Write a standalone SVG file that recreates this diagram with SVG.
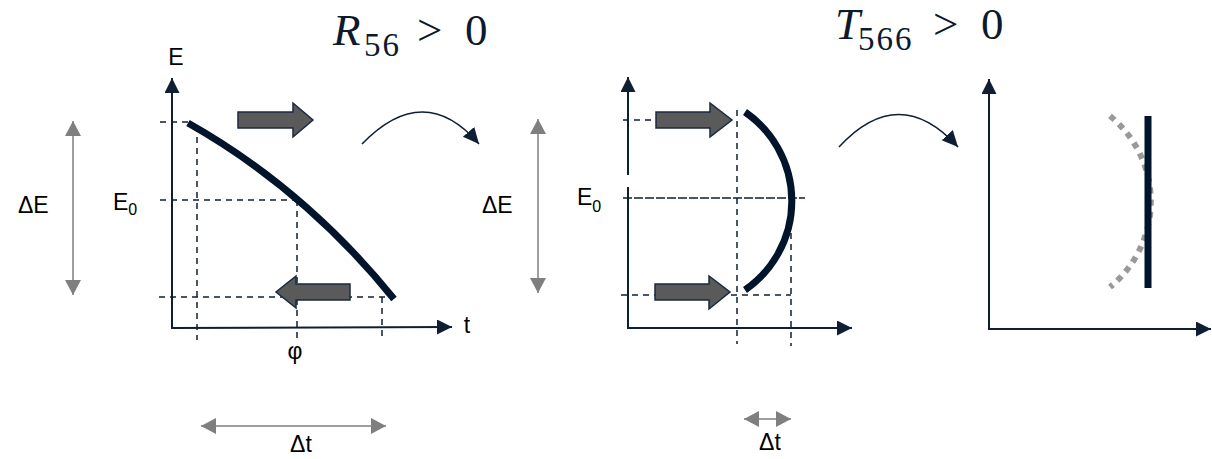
<svg xmlns="http://www.w3.org/2000/svg" width="1212" height="459" viewBox="0 0 1212 459">
<style>
.lbl{font-family:"Liberation Sans",Arial,sans-serif;font-size:23px;fill:#000}
.math{font-family:"Liberation Serif","DejaVu Serif",serif;fill:#0c1a2e;font-size:45px}
.sub{font-size:33px;letter-spacing:2px}
.axis{stroke:#0f1e33;stroke-width:2;fill:none}
.dash{stroke:#0f1e33;stroke-width:1.5;stroke-dasharray:6 5;fill:none}
.thick{stroke:#00152b;stroke-width:7;fill:none}
.gray{stroke:#7f7f7f;stroke-width:1.5;fill:none}
.block{fill:#5a5a5a;stroke:#1a2a3f;stroke-width:1.5}
.curv{stroke:#0f1e33;stroke-width:1.5;fill:none}
</style>
<defs>
<marker id="ah" markerUnits="userSpaceOnUse" markerWidth="16" markerHeight="16" refX="15" refY="7.5" orient="auto"><path d="M0,0 L15,7.5 L0,15 Z" fill="#0f1e33"/></marker>
<marker id="gh" markerUnits="userSpaceOnUse" markerWidth="16" markerHeight="18" refX="15" refY="8" orient="auto-start-reverse"><path d="M0,0 L15,8 L0,16 Z" fill="#7f7f7f"/></marker>
<marker id="ch" markerUnits="userSpaceOnUse" markerWidth="18" markerHeight="16" refX="16" refY="7.5" orient="auto"><path d="M0,0 L16,7.5 L0,15 Z" fill="#0f1e33"/></marker>
</defs>

<g id="title-r56">
<text class="math" x="333" y="45" font-style="italic">R</text>
<text class="math sub" x="364" y="56">56</text>
<text class="math" x="417" y="45">&gt;</text>
<text class="math" x="465" y="45">0</text>
</g>
<g id="title-t566">
<text class="math" x="835" y="39" font-style="italic">T</text>
<text class="math sub" x="858" y="50">566</text>
<text class="math" x="933" y="39">&gt;</text>
<text class="math" x="981" y="39">0</text>
</g>

<g id="panel1">
<line class="axis" x1="172" y1="329" x2="172" y2="78" marker-end="url(#ah)"/>
<line class="axis" x1="172" y1="328" x2="452" y2="327" marker-end="url(#ah)"/>
<line class="dash" x1="160" y1="122" x2="190" y2="122"/>
<line class="dash" x1="197" y1="126" x2="197" y2="340"/>
<line class="dash" x1="160" y1="200" x2="298" y2="200"/>
<line class="dash" x1="297" y1="200" x2="297" y2="338"/>
<line class="dash" x1="159" y1="297" x2="393" y2="297"/>
<line class="dash" x1="382" y1="297" x2="382" y2="340"/>
<path class="thick" d="M188,123 Q305,189 394,299"/>
<polygon class="block" points="238,112 293,112 293,103 313,120 293,137 293,128 238,128"/>
<polygon class="block" points="350,284 296,284 296,276 276,292 296,308 296,300 350,300"/>
<text class="lbl" x="176" y="65" text-anchor="middle">E</text>
<text class="lbl" x="467" y="333" text-anchor="middle">t</text>
<text class="lbl" x="295" y="359" text-anchor="middle" font-size="25">φ</text>
<text class="lbl" x="113" y="210">E<tspan font-size="16" dy="5">0</tspan></text>
<text class="lbl" x="18" y="213">ΔE</text>
<line class="gray" x1="73" y1="121" x2="73" y2="295" marker-start="url(#gh)" marker-end="url(#gh)"/>
<line class="gray" x1="201" y1="426" x2="386" y2="426" marker-start="url(#gh)" marker-end="url(#gh)"/>
<text class="lbl" x="301" y="452" text-anchor="middle">Δt</text>
</g>

<g id="panel2">
<line class="axis" x1="628" y1="175" x2="628" y2="77" marker-end="url(#ah)"/>
<line class="axis" x1="628" y1="187" x2="628" y2="328"/>
<line class="axis" x1="627" y1="328" x2="852" y2="328" marker-end="url(#ah)"/>
<line class="dash" x1="623" y1="120" x2="656" y2="120"/>
<line class="dash" x1="737" y1="110" x2="737" y2="344"/>
<line class="dash" x1="791" y1="200" x2="791" y2="346"/>
<line class="dash" x1="623" y1="198" x2="805" y2="198" style="stroke-dasharray:9 2"/>
<line class="dash" x1="621" y1="295" x2="791" y2="295"/>
<path class="thick" d="M745,112 A108,108 0 0 1 745,290"/>
<polygon class="block" points="656,112 710,112 710,103 732,120 710,137 710,128 656,128"/>
<polygon class="block" points="655,284 709,284 709,276 730,292 709,309 709,300 655,300"/>
<text class="lbl" x="577" y="205">E<tspan font-size="16" dy="7">0</tspan></text>
<text class="lbl" x="482" y="213">ΔE</text>
<line class="gray" x1="538" y1="119" x2="538" y2="293" marker-start="url(#gh)" marker-end="url(#gh)"/>
<line class="gray" x1="744" y1="419" x2="791" y2="419" marker-start="url(#gh)" marker-end="url(#gh)"/>
<text class="lbl" x="770" y="450" text-anchor="middle">Δt</text>
</g>

<g id="panel3">
<line class="axis" x1="989" y1="329" x2="989" y2="79" marker-end="url(#ah)"/>
<line class="axis" x1="988" y1="329" x2="1211" y2="329" marker-end="url(#ah)"/>
<path d="M1110,116 A110,110 0 0 1 1110,287" stroke="#999" stroke-width="6" stroke-dasharray="6 6" fill="none"/>
<line x1="1148" y1="116" x2="1148" y2="288" stroke="#00152b" stroke-width="7"/>
</g>

<g id="connectors">
<path class="curv" d="M362,144 Q424,80 479,144" marker-end="url(#ch)"/>
<path class="curv" d="M839,147 Q899,82 958,147" marker-end="url(#ch)"/>
</g>
</svg>
